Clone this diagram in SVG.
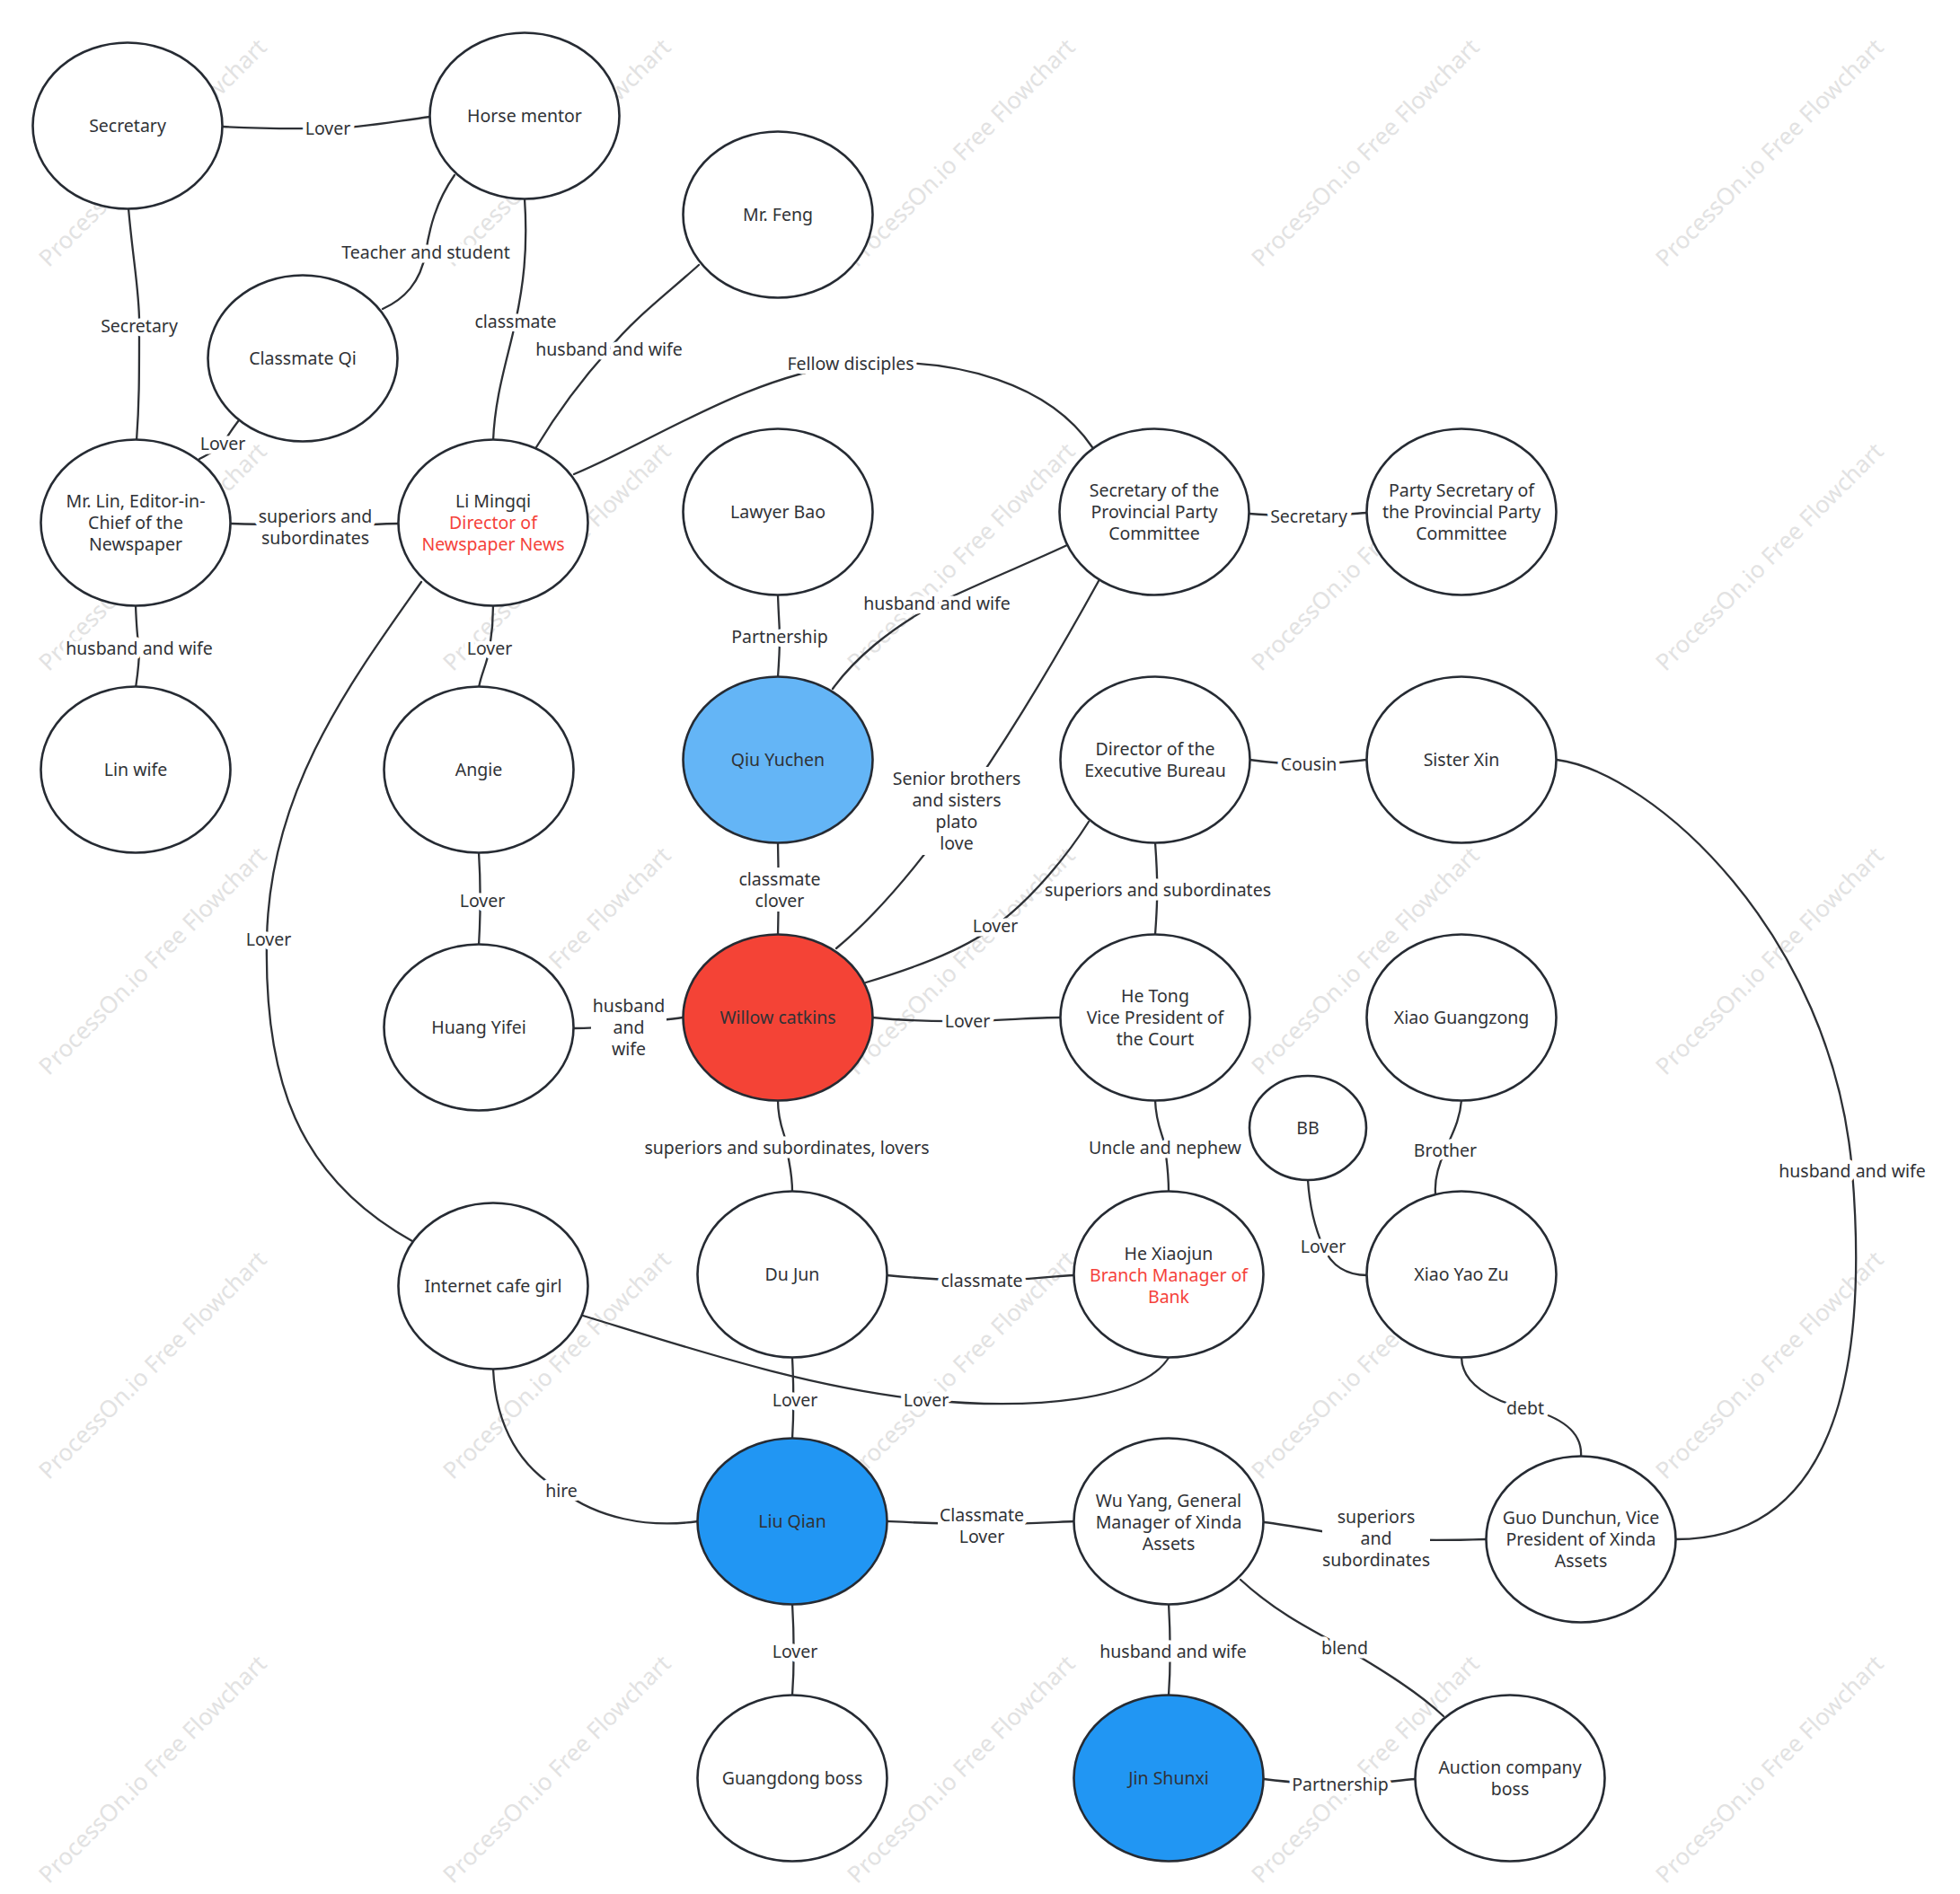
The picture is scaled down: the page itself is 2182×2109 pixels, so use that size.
<svg xmlns="http://www.w3.org/2000/svg" width="2182" height="2109" viewBox="0 0 2182 2109">
<style>
.bg{fill:#fff}
.wm{font-family:"Noto Sans","Open Sans",sans-serif;font-size:26px;fill:#e2e2e2;text-anchor:middle}
.edges path{fill:none;stroke:#2d3035;stroke-width:2.3;stroke-linecap:round}
.lbg{fill:#fff}
.lbl{font-family:"Noto Sans","Open Sans",sans-serif;font-size:19.5px;fill:#303236;text-anchor:middle;paint-order:stroke;stroke:#fff;stroke-width:9;stroke-linejoin:round}
.node ellipse{fill:#fff;stroke:#262b33;stroke-width:2.6}
.node text{font-family:"Noto Sans","Open Sans",sans-serif;font-size:19.5px;fill:#303236;text-anchor:middle}
.node .red{fill:#f5423a}
.lb ellipse{fill:#64b5f6}
.rd ellipse{fill:#f44336}
.bl ellipse{fill:#2196f3}
</style>
<rect class="bg" x="0" y="0" width="2182" height="2109"/>
<g id="watermark">
<text class="wm" x="170" y="179" transform="rotate(-45 170 170)">ProcessOn.io Free Flowchart</text>
<text class="wm" x="620" y="179" transform="rotate(-45 620 170)">ProcessOn.io Free Flowchart</text>
<text class="wm" x="1070" y="179" transform="rotate(-45 1070 170)">ProcessOn.io Free Flowchart</text>
<text class="wm" x="1520" y="179" transform="rotate(-45 1520 170)">ProcessOn.io Free Flowchart</text>
<text class="wm" x="1970" y="179" transform="rotate(-45 1970 170)">ProcessOn.io Free Flowchart</text>
<text class="wm" x="170" y="629" transform="rotate(-45 170 620)">ProcessOn.io Free Flowchart</text>
<text class="wm" x="620" y="629" transform="rotate(-45 620 620)">ProcessOn.io Free Flowchart</text>
<text class="wm" x="1070" y="629" transform="rotate(-45 1070 620)">ProcessOn.io Free Flowchart</text>
<text class="wm" x="1520" y="629" transform="rotate(-45 1520 620)">ProcessOn.io Free Flowchart</text>
<text class="wm" x="1970" y="629" transform="rotate(-45 1970 620)">ProcessOn.io Free Flowchart</text>
<text class="wm" x="170" y="1079" transform="rotate(-45 170 1070)">ProcessOn.io Free Flowchart</text>
<text class="wm" x="620" y="1079" transform="rotate(-45 620 1070)">ProcessOn.io Free Flowchart</text>
<text class="wm" x="1070" y="1079" transform="rotate(-45 1070 1070)">ProcessOn.io Free Flowchart</text>
<text class="wm" x="1520" y="1079" transform="rotate(-45 1520 1070)">ProcessOn.io Free Flowchart</text>
<text class="wm" x="1970" y="1079" transform="rotate(-45 1970 1070)">ProcessOn.io Free Flowchart</text>
<text class="wm" x="170" y="1529" transform="rotate(-45 170 1520)">ProcessOn.io Free Flowchart</text>
<text class="wm" x="620" y="1529" transform="rotate(-45 620 1520)">ProcessOn.io Free Flowchart</text>
<text class="wm" x="1070" y="1529" transform="rotate(-45 1070 1520)">ProcessOn.io Free Flowchart</text>
<text class="wm" x="1520" y="1529" transform="rotate(-45 1520 1520)">ProcessOn.io Free Flowchart</text>
<text class="wm" x="1970" y="1529" transform="rotate(-45 1970 1520)">ProcessOn.io Free Flowchart</text>
<text class="wm" x="170" y="1979" transform="rotate(-45 170 1970)">ProcessOn.io Free Flowchart</text>
<text class="wm" x="620" y="1979" transform="rotate(-45 620 1970)">ProcessOn.io Free Flowchart</text>
<text class="wm" x="1070" y="1979" transform="rotate(-45 1070 1970)">ProcessOn.io Free Flowchart</text>
<text class="wm" x="1520" y="1979" transform="rotate(-45 1520 1970)">ProcessOn.io Free Flowchart</text>
<text class="wm" x="1970" y="1979" transform="rotate(-45 1970 1970)">ProcessOn.io Free Flowchart</text>
</g>
<g id="connectors">
<g class="edges">
<path d="M248,141 C300,144 330,143 365,143 C400,143 440,135 479,130"/>
<path d="M143,232 C148,290 156,330 155,363 C155,420 155,450 152,491"/>
<path d="M506,195 C485,225 478,255 474,281 C468,315 450,333 426,344"/>
<path d="M584,221 C588,280 582,320 574,358 C565,400 551,440 549,491"/>
<path d="M266,468 C258,478 252,488 248,494 C240,502 230,507 222,511"/>
<path d="M257,583 C300,584 320,585 351,586 C390,586 420,583 445,583"/>
<path d="M151,674 C152,700 153,712 155,722 C155,740 153,752 151,766"/>
<path d="M597,498 C620,460 650,420 678,389 C705,355 745,325 778,295"/>
<path d="M639,528 C730,490 830,420 947,405 C1070,396 1170,430 1216,498"/>
<path d="M1391,572 C1420,574 1440,575 1457,575 C1480,575 1500,572 1522,571"/>
<path d="M866,663 C867,690 868,700 868,709 C868,725 867,740 866,754"/>
<path d="M927,767 C950,735 990,700 1043,672 C1100,645 1150,625 1188,607"/>
<path d="M1223,647 Q1053,955 931,1056"/>
<path d="M866,938 C867,980 867,1000 866,1042"/>
<path d="M964,1094 C1010,1080 1070,1060 1108,1031 C1150,1000 1190,950 1212,915"/>
<path d="M1391,846 C1420,850 1440,851 1457,851 C1480,851 1500,848 1522,846"/>
<path d="M1286,938 C1289,980 1289,1000 1286,1041"/>
<path d="M639,1145 C680,1145 720,1138 760,1133"/>
<path d="M971,1133 C1020,1138 1050,1137 1077,1137 C1120,1136 1150,1133 1181,1133"/>
<path d="M866,1225 C866,1255 876,1265 876,1278 C878,1295 882,1305 882,1327"/>
<path d="M1286,1225 C1287,1255 1296,1265 1297,1278 C1299,1295 1301,1305 1301,1327"/>
<path d="M1627,1225 C1625,1250 1615,1265 1609,1281 C1600,1300 1597,1315 1598,1329"/>
<path d="M1456,1314 C1458,1345 1465,1370 1473,1388 C1482,1410 1500,1420 1522,1420"/>
<path d="M549,674 C549,700 546,715 545,722 C542,740 535,752 533,766"/>
<path d="M533,949 C535,980 535,1020 533,1053"/>
<path d="M469,648 C390,760 300,880 297,1046 C294,1200 330,1310 459,1382"/>
<path d="M649,1465 C780,1505 900,1545 1031,1559 C1150,1570 1270,1560 1301,1512"/>
<path d="M987,1420 C1030,1424 1060,1426 1093,1426 C1140,1426 1170,1421 1196,1420"/>
<path d="M882,1512 C884,1550 884,1570 882,1603"/>
<path d="M549,1524 C552,1590 580,1635 625,1660 C665,1690 720,1702 777,1694"/>
<path d="M987,1694 C1030,1696 1050,1697 1093,1697 C1140,1697 1170,1695 1196,1694"/>
<path d="M882,1785 C884,1820 884,1860 882,1888"/>
<path d="M1407,1695 C1450,1700 1490,1710 1532,1713 C1580,1716 1620,1715 1654,1714"/>
<path d="M1301,1785 C1303,1820 1303,1860 1301,1888"/>
<path d="M1381,1759 C1420,1795 1460,1815 1497,1835 C1540,1860 1580,1885 1607,1911"/>
<path d="M1407,1981 C1440,1985 1470,1987 1492,1987 C1530,1987 1550,1983 1576,1981"/>
<path d="M1627,1511 C1627,1540 1660,1560 1698,1568 C1740,1578 1762,1595 1760,1622"/>
<path d="M1733,846 C1840,860 2040,1040 2062,1304 C2074,1450 2075,1714 1866,1714"/>
</g>
<g class="labels">
<rect class="lbg" x="286" y="563" width="130" height="48"/>
<rect class="lbg" x="993" y="854" width="144" height="98"/>
<rect class="lbg" x="822" y="966" width="92" height="49"/>
<rect class="lbg" x="658" y="1107" width="84" height="74"/>
<rect class="lbg" x="1044" y="1674" width="97" height="49"/>
<rect class="lbg" x="1472" y="1676" width="120" height="74"/>
<text class="lbl" x="365" y="150">Lover</text>
<text class="lbl" x="155" y="370">Secretary</text>
<text class="lbl" x="474" y="288">Teacher and student</text>
<text class="lbl" x="574" y="365">classmate</text>
<text class="lbl" x="248" y="501">Lover</text>
<text class="lbl" x="351" y="582">superiors and</text>
<text class="lbl" x="351" y="606">subordinates</text>
<text class="lbl" x="155" y="729">husband and wife</text>
<text class="lbl" x="678" y="396">husband and wife</text>
<text class="lbl" x="947" y="412">Fellow disciples</text>
<text class="lbl" x="1457" y="582">Secretary</text>
<text class="lbl" x="868" y="716">Partnership</text>
<text class="lbl" x="1043" y="679">husband and wife</text>
<text class="lbl" x="1065" y="874">Senior brothers</text>
<text class="lbl" x="1065" y="898">and sisters</text>
<text class="lbl" x="1065" y="922">plato</text>
<text class="lbl" x="1065" y="946">love</text>
<text class="lbl" x="868" y="986">classmate</text>
<text class="lbl" x="868" y="1010">clover</text>
<text class="lbl" x="1108" y="1038">Lover</text>
<text class="lbl" x="1457" y="858">Cousin</text>
<text class="lbl" x="1289" y="998">superiors and subordinates</text>
<text class="lbl" x="700" y="1127">husband</text>
<text class="lbl" x="700" y="1151">and</text>
<text class="lbl" x="700" y="1175">wife</text>
<text class="lbl" x="1077" y="1144">Lover</text>
<text class="lbl" x="876" y="1285">superiors and subordinates, lovers</text>
<text class="lbl" x="1297" y="1285">Uncle and nephew</text>
<text class="lbl" x="1609" y="1288">Brother</text>
<text class="lbl" x="1473" y="1395">Lover</text>
<text class="lbl" x="545" y="729">Lover</text>
<text class="lbl" x="537" y="1010">Lover</text>
<text class="lbl" x="299" y="1053">Lover</text>
<text class="lbl" x="1031" y="1566">Lover</text>
<text class="lbl" x="1093" y="1433">classmate</text>
<text class="lbl" x="885" y="1566">Lover</text>
<text class="lbl" x="625" y="1667">hire</text>
<text class="lbl" x="1093" y="1694">Classmate</text>
<text class="lbl" x="1093" y="1718">Lover</text>
<text class="lbl" x="885" y="1846">Lover</text>
<text class="lbl" x="1532" y="1696">superiors</text>
<text class="lbl" x="1532" y="1720">and</text>
<text class="lbl" x="1532" y="1744">subordinates</text>
<text class="lbl" x="1306" y="1846">husband and wife</text>
<text class="lbl" x="1497" y="1842">blend</text>
<text class="lbl" x="1492" y="1994">Partnership</text>
<text class="lbl" x="1698" y="1575">debt</text>
<text class="lbl" x="2062" y="1311">husband and wife</text>
</g>
</g>
<g id="n-secretary" class="node"><ellipse cx="142" cy="140" rx="105.5" ry="92.5"/><text x="142" y="147">Secretary</text></g>
<g id="n-horse-mentor" class="node"><ellipse cx="584" cy="129" rx="105.5" ry="92.5"/><text x="584" y="136">Horse mentor</text></g>
<g id="n-mr-feng" class="node"><ellipse cx="866" cy="239" rx="105.5" ry="92.5"/><text x="866" y="246">Mr. Feng</text></g>
<g id="n-classmate-qi" class="node"><ellipse cx="337" cy="399" rx="105.5" ry="92.5"/><text x="337" y="406">Classmate Qi</text></g>
<g id="n-mr-lin" class="node"><ellipse cx="151" cy="582" rx="105.5" ry="92.5"/><text x="151" y="565">Mr. Lin, Editor-in-</text><text x="151" y="589">Chief of the</text><text x="151" y="613">Newspaper</text></g>
<g id="n-li-mingqi" class="node"><ellipse cx="549" cy="582" rx="105.5" ry="92.5"/><text x="549" y="565">Li Mingqi</text><text class="red" x="549" y="589">Director of</text><text class="red" x="549" y="613">Newspaper News</text></g>
<g id="n-lawyer-bao" class="node"><ellipse cx="866" cy="570" rx="105.5" ry="92.5"/><text x="866" y="577">Lawyer Bao</text></g>
<g id="n-sec-ppc" class="node"><ellipse cx="1285" cy="570" rx="105.5" ry="92.5"/><text x="1285" y="553">Secretary of the</text><text x="1285" y="577">Provincial Party</text><text x="1285" y="601">Committee</text></g>
<g id="n-party-sec-ppc" class="node"><ellipse cx="1627" cy="570" rx="105.5" ry="92.5"/><text x="1627" y="553">Party Secretary of</text><text x="1627" y="577">the Provincial Party</text><text x="1627" y="601">Committee</text></g>
<g id="n-lin-wife" class="node"><ellipse cx="151" cy="857" rx="105.5" ry="92.5"/><text x="151" y="864">Lin wife</text></g>
<g id="n-angie" class="node"><ellipse cx="533" cy="857" rx="105.5" ry="92.5"/><text x="533" y="864">Angie</text></g>
<g id="n-qiu-yuchen" class="node lb"><ellipse cx="866" cy="846" rx="105.5" ry="92.5"/><text x="866" y="853">Qiu Yuchen</text></g>
<g id="n-director-exec" class="node"><ellipse cx="1286" cy="846" rx="105.5" ry="92.5"/><text x="1286" y="841">Director of the</text><text x="1286" y="865">Executive Bureau</text></g>
<g id="n-sister-xin" class="node"><ellipse cx="1627" cy="846" rx="105.5" ry="92.5"/><text x="1627" y="853">Sister Xin</text></g>
<g id="n-huang-yifei" class="node"><ellipse cx="533" cy="1144" rx="105.5" ry="92.5"/><text x="533" y="1151">Huang Yifei</text></g>
<g id="n-willow" class="node rd"><ellipse cx="866" cy="1133" rx="105.5" ry="92.5"/><text x="866" y="1140">Willow catkins</text></g>
<g id="n-he-tong" class="node"><ellipse cx="1286" cy="1133" rx="105.5" ry="92.5"/><text x="1286" y="1116">He Tong</text><text x="1286" y="1140">Vice President of</text><text x="1286" y="1164">the Court</text></g>
<g id="n-xiao-guangzong" class="node"><ellipse cx="1627" cy="1133" rx="105.5" ry="92.5"/><text x="1627" y="1140">Xiao Guangzong</text></g>
<g id="n-bb" class="node"><ellipse cx="1456" cy="1256" rx="65" ry="58"/><text x="1456" y="1263">BB</text></g>
<g id="n-internet-cafe-girl" class="node"><ellipse cx="549" cy="1432" rx="105.5" ry="92.5"/><text x="549" y="1439">Internet cafe girl</text></g>
<g id="n-du-jun" class="node"><ellipse cx="882" cy="1419" rx="105.5" ry="92.5"/><text x="882" y="1426">Du Jun</text></g>
<g id="n-he-xiaojun" class="node"><ellipse cx="1301" cy="1419" rx="105.5" ry="92.5"/><text x="1301" y="1403">He Xiaojun</text><text class="red" x="1301" y="1427">Branch Manager of</text><text class="red" x="1301" y="1451">Bank</text></g>
<g id="n-xiao-yao-zu" class="node"><ellipse cx="1627" cy="1419" rx="105.5" ry="92.5"/><text x="1627" y="1426">Xiao Yao Zu</text></g>
<g id="n-liu-qian" class="node bl"><ellipse cx="882" cy="1694" rx="105.5" ry="92.5"/><text x="882" y="1701">Liu Qian</text></g>
<g id="n-wu-yang" class="node"><ellipse cx="1301" cy="1694" rx="105.5" ry="92.5"/><text x="1301" y="1678">Wu Yang, General</text><text x="1301" y="1702">Manager of Xinda</text><text x="1301" y="1726">Assets</text></g>
<g id="n-guo-dunchun" class="node"><ellipse cx="1760" cy="1714" rx="105.5" ry="92.5"/><text x="1760" y="1697">Guo Dunchun, Vice</text><text x="1760" y="1721">President of Xinda</text><text x="1760" y="1745">Assets</text></g>
<g id="n-guangdong-boss" class="node"><ellipse cx="882" cy="1980" rx="105.5" ry="92.5"/><text x="882" y="1987">Guangdong boss</text></g>
<g id="n-jin-shunxi" class="node bl"><ellipse cx="1301" cy="1980" rx="105.5" ry="92.5"/><text x="1301" y="1987">Jin Shunxi</text></g>
<g id="n-auction-boss" class="node"><ellipse cx="1681" cy="1980" rx="105.5" ry="92.5"/><text x="1681" y="1975">Auction company</text><text x="1681" y="1999">boss</text></g>
</svg>
